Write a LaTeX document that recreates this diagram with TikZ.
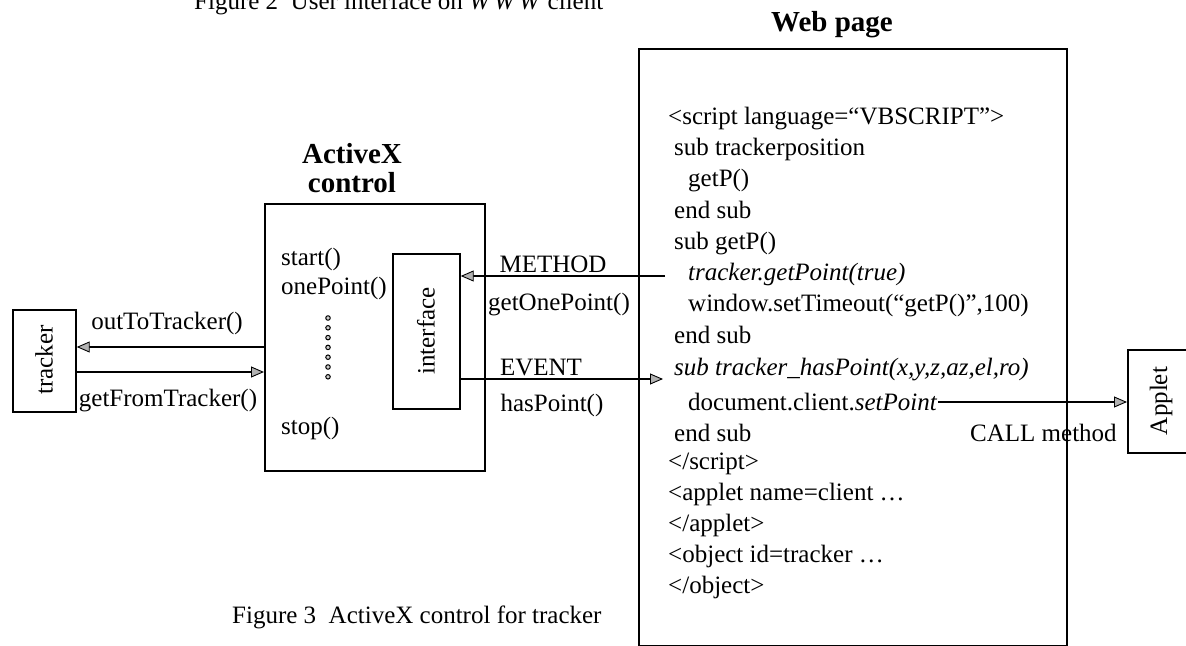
\documentclass[tikz,border=0pt]{standalone}
\usepackage{fontspec}
\setmainfont{Liberation Serif}
\usetikzlibrary{arrows.meta}
\begin{document}
\begin{tikzpicture}[x=1bp,y=-1bp,
  txt/.style={inner sep=0pt, font=\fontsize{25bp}{30bp}\selectfont},
  ttl/.style={inner sep=0pt, font=\fontsize{29bp}{33bp}\selectfont\bfseries},
  box/.style={draw, line width=1.7bp, inner sep=0pt, anchor=north west},
  arr/.style={line width=1.4bp, -{Triangle[length=13bp,width=11bp,fill=gray!60,line width=0.9bp]}},
  dotc/.style={draw, line width=1bp, fill=gray!40, circle, inner sep=0pt, minimum size=4.5bp},
]
\useasboundingbox (0,0) rectangle (1186,646);

% captions
\node[txt, anchor=base west] (fig2) at (194,10) {Figure 2\ \ User interface on \textit{W\hspace{4bp}W\hspace{4bp}W} client};
\node[txt, anchor=base west] (fig3) at (232,623) {Figure 3\ \ ActiveX control for tracker};

% boxes
\node[box, minimum width=63bp, minimum height=102bp] (tracker) at (12,309) {};
\node[box, minimum width=220bp, minimum height=267bp] (ax) at (264,203) {};
\node[box, minimum width=67bp, minimum height=155bp] (iface) at (392,253) {};
\node[box, minimum width=428bp, minimum height=597bp] (web) at (638,48) {};
\node[box, minimum width=90bp, minimum height=103bp] (applet) at (1127,349) {};

% rotated labels
\node[txt, rotate=90] (trlbl) at (44,360) {tracker};
\node[txt, rotate=90] (iflbl) at (426,331) {interface};
\node[txt, rotate=90] (aplbl) at (1161,401) {Applet};

% titles
\node[ttl, anchor=base] (wptitle) at (832,32) {Web page};
\node[ttl, anchor=base] (axt1) at (352,164) {ActiveX};
\node[ttl, anchor=base] (axt2) at (352,193) {control};

% ActiveX contents
\node[txt, anchor=base west] (m1) at (281,266) {start()};
\node[txt, anchor=base west] (m2) at (281,295) {onePoint()};
\node[txt, anchor=base west] (m3) at (281,434) {stop()};
\foreach \i in {0,...,6} {
  \node[dotc] (d\i) at (328,{318+\i*9.8}) {};
}

% connector labels
\node[txt, anchor=base] (lmethod) at (553,273) {METHOD};
\node[txt, anchor=base] (lgetone) at (559,311) {getOnePoint()};
\node[txt, anchor=base] (levent) at (541,375) {EVENT};
\node[txt, anchor=base] (lhas) at (552,411) {hasPoint()};
\node[txt, anchor=base] (lout) at (167,330) {outToTracker()};
\node[txt, anchor=base] (lgetfrom) at (168,406) {getFromTracker()};
\node[txt, anchor=base west] (lcall) at (970,441) {CALL method};

% web page code lines
\def\Lz{668}\def\Lo{674}\def\Lt{688}
\node[txt, anchor=base west] (w1) at (\Lz,125) {<script language=“VBSCRIPT”>};
\node[txt, anchor=base west] (w2) at (\Lo,156) {sub trackerposition};
\node[txt, anchor=base west] (w3) at (\Lt,187) {getP()};
\node[txt, anchor=base west] (w4) at (\Lo,219) {end sub};
\node[txt, anchor=base west] (w5) at (\Lo,250) {sub getP()};
\node[txt, anchor=base west] (w6) at (\Lt,281) {\textit{tracker.getPoint(true)}};
\node[txt, anchor=base west] (w7) at (\Lt,312) {window.setTimeout(“getP()”,100)};
\node[txt, anchor=base west] (w8) at (\Lo,344) {end sub};
\node[txt, anchor=base west] (w9) at (\Lo,375) {\textit{sub tracker\_hasPoint(x,y,z,az,el,ro)}};
\node[txt, anchor=base west] (w10) at (\Lt,410) {document.client.\textit{setPoint}};
\node[txt, anchor=base west] (w11) at (\Lo,441) {end sub};
\node[txt, anchor=base west] (w12) at (\Lz,469) {</script>};
\node[txt, anchor=base west] (w13) at (\Lz,500) {<applet name=client …};
\node[txt, anchor=base west] (w14) at (\Lz,531) {</applet>};
\node[txt, anchor=base west] (w15) at (\Lz,562) {<object id=tracker …};
\node[txt, anchor=base west] (w16) at (\Lz,593) {</object>};

% connectors
\coordinate (yout) at (0,347);
\coordinate (yget) at (0,372);
\draw[arr] (ax.west |- yout) -- (tracker.east |- yout);
\draw[arr] (tracker.east |- yget) -- (ax.west |- yget);
\coordinate (mstart) at (665,276);
\draw[arr] (mstart) -- (mstart -| iface.east);
\coordinate (eend) at (663,379);
\draw[arr] (iface.east |- eend) -- (eend);
\coordinate (cstart) at (938,402);
\draw[arr] (cstart) -- (cstart -| applet.west);
\end{tikzpicture}
\end{document}
